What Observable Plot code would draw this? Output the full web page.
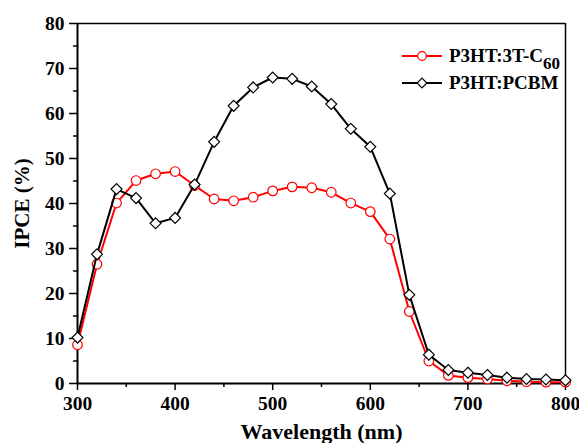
<!DOCTYPE html>
<html>
<head>
<meta charset="utf-8">
<script src="https://cdn.jsdelivr.net/npm/d3@7"></script>
<script src="https://cdn.jsdelivr.net/npm/@observablehq/plot@0.6"></script>
<style>
  html, body { margin: 0; padding: 0; background: #fff; }
  #wrap { position: relative; width: 579px; height: 443px; }
  #legend { position: absolute; left: 400px; top: 42px; font-family: "Liberation Serif", "Times New Roman", serif; font-weight: bold; font-size: 19px; color: #000; }
  .row { display: flex; align-items: center; height: 27px; }
  .row svg { margin-right: 5px; }
  sub { font-size: 17px; vertical-align: -7px; line-height: 0; }
</style>
</head>
<body>
<div id="wrap">
  <div id="legend"></div>
</div>
<script>
const wavelengths = [300,320,340,360,380,400,420,440,460,480,500,520,540,560,580,600,620,640,660,680,700,720,740,760,780,800];
const c60Values   = [8.6,26.5,40.1,45.1,46.6,47.1,44.0,41.0,40.6,41.4,42.8,43.7,43.5,42.5,40.1,38.2,32.1,16.0,5.0,1.8,1.3,1.0,0.6,0.4,0.3,0.3];
const pcbmValues  = [10.2,28.7,43.2,41.2,35.6,36.8,44.2,53.7,61.7,65.8,68.0,67.7,66.0,62.1,56.6,52.6,42.2,19.7,6.4,3.0,2.4,1.9,1.3,1.0,0.9,0.7];
const seriesNames = ["P3HT:3T-C60", "P3HT:PCBM"];
const xMajor = [300,400,500,600,700,800];
const xMinor = [350,450,550,650,750];
const yMajor = [0,10,20,30,40,50,60,70,80];
const yMinor = [5,15,25,35,45,55,65,75];

const c60 = wavelengths.map((w,i) => ({w, v: c60Values[i]}));
const pcbm = wavelengths.map((w,i) => ({w, v: pcbmValues[i]}));

const font = '"Liberation Serif", "Times New Roman", serif';

const chart = Plot.plot({
  width: 579,
  height: 443,
  marginLeft: 77,
  marginRight: 14,
  marginTop: 23,
  marginBottom: 60,
  style: { fontFamily: font, fontWeight: "bold", fontSize: "19px", color: "#000", background: "#fff" },
  x: { domain: [300, 800] },
  y: { domain: [0, 80] },
  marks: [
    Plot.axisX({ticks: xMajor, tickSize: 7, tickPadding: 6, tickFormat: d => d, label: null, strokeWidth: 1.5, fontSize: 19.5}),
    Plot.axisX({ticks: xMinor, tickSize: 4, text: null, label: null, strokeWidth: 1.5}),
    Plot.axisY({ticks: yMajor, tickSize: 8, tickPadding: 5, tickFormat: d => d, label: null, strokeWidth: 1.5, fontSize: 19.5}),
    Plot.axisY({ticks: yMinor, tickSize: 4, text: null, label: null, strokeWidth: 1.5}),
    Plot.ruleX([300], {stroke: "#000", strokeWidth: 2}),
    Plot.ruleY([0], {stroke: "#000", strokeWidth: 2}),
    Plot.ruleX([800], {stroke: "#000", strokeWidth: 1.5}),
    Plot.ruleY([80], {stroke: "#000", strokeWidth: 1.5}),
    Plot.line(c60, {x: "w", y: "v", stroke: "#ff0000", strokeWidth: 2}),
    Plot.dot(c60, {x: "w", y: "v", r: 4.8, stroke: "#ff0000", fill: "#fff", strokeWidth: 1.2}),
    Plot.line(pcbm, {x: "w", y: "v", stroke: "#000", strokeWidth: 2}),
    Plot.dot(pcbm, {x: "w", y: "v", r: 4.9, symbol: "diamond2", stroke: "#000", fill: "#fff", strokeWidth: 1.2}),
    Plot.text(["Wavelength (nm)"], {frameAnchor: "bottom", dy: 55, fontSize: 22, fontWeight: "bold", textAnchor: "middle", lineAnchor: "bottom"}),
    Plot.text(["IPCE (%)"], {frameAnchor: "left", dx: -55, rotate: -90, fontSize: 21, fontWeight: "bold", textAnchor: "middle"})
  ]
});
document.getElementById("wrap").prepend(chart);

// legend
const legend = document.getElementById("legend");
const items = [
  {name: seriesNames[0], color: "#ff0000", sym: "circle"},
  {name: seriesNames[1], color: "#000", sym: "diamond"}
];
for (const it of items) {
  const row = document.createElement("div");
  row.className = "row";
  const s = d3.create("svg").attr("width", 44).attr("height", 14);
  s.append("line").attr("x1", 2).attr("x2", 42).attr("y1", 7).attr("y2", 7).attr("stroke", it.color).attr("stroke-width", 2);
  if (it.sym === "circle") {
    s.append("circle").attr("cx", 22).attr("cy", 7).attr("r", 4.3).attr("fill", "#fff").attr("stroke", it.color).attr("stroke-width", 1.2);
  } else {
    s.append("path").attr("d", d3.symbol(d3.symbolDiamond2, 60)()).attr("transform", "translate(22,7)").attr("fill", "#fff").attr("stroke", it.color).attr("stroke-width", 1.2);
  }
  row.appendChild(s.node());
  const label = document.createElement("span");
  if (it.name.endsWith("60")) {
    label.innerHTML = it.name.slice(0, -2) + "<sub>60</sub>";
  } else {
    label.textContent = it.name;
  }
  row.appendChild(label);
  legend.appendChild(row);
}
</script>
</body>
</html>
